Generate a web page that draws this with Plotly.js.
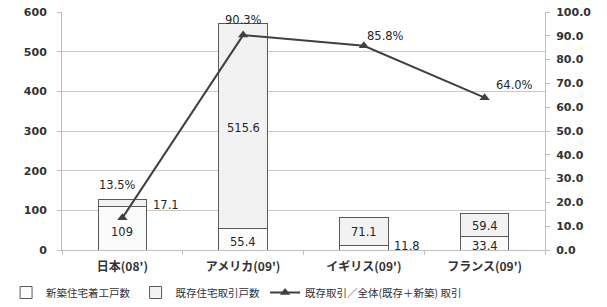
<!DOCTYPE html>
<html>
<head>
<meta charset="utf-8">
<script src="https://cdn.plot.ly/plotly-3.0.1.min.js"></script>
<style>html,body{margin:0;padding:0;background:#fff;}#chart{width:607px;height:307px;}</style>
</head>
<body>
<div id="chart"></div>
<script>
const categories = ["日本(08')", "アメリカ(09')", "イギリス(09')", "フランス(09')"];
const newStarts = [109, 55.4, 11.8, 33.4];
const existingTx = [17.1, 515.6, 71.1, 59.4];
const existingShare = [13.5, 90.3, 85.8, 64.0];
const seriesNames = ["新築住宅着工戸数", "既存住宅取引戸数", "既存取引／全体(既存＋新築) 取引"];

const lblFont = {family: "DejaVu Sans, Verdana, sans-serif", size: 11.5, color: "#262626"};
const tickFont = {family: "DejaVu Sans, Verdana, sans-serif", size: 11, color: "#333", weight: 700};

const traces = [
  {type: "bar", name: seriesNames[0], x: categories, y: newStarts,
   marker: {color: "#fbfbfb", line: {color: "#5a5a5a", width: 1}}, width: 0.4},
  {type: "bar", name: seriesNames[1], x: categories, y: existingTx,
   marker: {color: "#f2f2f2", line: {color: "#5a5a5a", width: 1}}, width: 0.4},
  {type: "scatter", mode: "lines+markers", name: seriesNames[2], x: categories, y: existingShare,
   yaxis: "y2", line: {color: "#404040", width: 2},
   marker: {symbol: "triangle-up", size: 9, color: "#404040"}}
];

const annotations = [];
const newShift = [[0, -4], [0, -3], [43, 2], [0, -3]];
categories.forEach((c, i) => {
  annotations.push({x: c, y: newStarts[i] / 2, xref: "x", yref: "y", text: String(newStarts[i]),
    showarrow: false, font: lblFont, xshift: newShift[i][0], yshift: newShift[i][1]});
});
const exShift = [[44, -2], [0, -2], [0, -1], [0, -1]];
categories.forEach((c, i) => {
  annotations.push({x: c, y: newStarts[i] + existingTx[i] / 2, xref: "x", yref: "y",
    text: existingTx[i].toFixed(1), showarrow: false, font: lblFont,
    xshift: exShift[i][0], yshift: exShift[i][1]});
});
const pShift = [[-5, 33], [0, 15], [22, 10], [30, 13]];
categories.forEach((c, i) => {
  annotations.push({x: c, y: existingShare[i], xref: "x", yref: "y2",
    text: existingShare[i].toFixed(1) + "%", showarrow: false, font: lblFont,
    xshift: pShift[i][0], yshift: pShift[i][1]});
});

const layout = {
  width: 607, height: 307,
  margin: {l: 62, r: 62, t: 12, b: 57, autoexpand: false},
  paper_bgcolor: "#fff", plot_bgcolor: "#fff",
  barmode: "stack",
  showlegend: true,
  legend: {orientation: "h", x: 0.01, xref: "container", y: -0.01, yref: "container",
    xanchor: "left", yanchor: "bottom",
    font: {family: "Noto Sans CJK JP, sans-serif", size: 10.5, color: "#333"},
    traceorder: "normal", tracegroupgap: 0},
  xaxis: {tickfont: {family: "Noto Sans CJK JP, sans-serif", size: 12, color: "#333", weight: 700},
    showline: true, linecolor: "#bfbfbf", ticks: "outside", ticklen: 4, tickcolor: "#bfbfbf",
    tickson: "boundaries", showgrid: false, automargin: false, ticklabelstandoff: 6},
  yaxis: {range: [0, 600], dtick: 100, tickfont: tickFont, showgrid: true, gridcolor: "#c8c8c8",
    showline: true, linecolor: "#bfbfbf", ticks: "outside", ticklen: 4, tickcolor: "#bfbfbf",
    zeroline: false, ticklabelstandoff: 8, automargin: false},
  yaxis2: {range: [0, 100], dtick: 10, tickformat: ".1f", overlaying: "y", side: "right",
    tickfont: tickFont, showgrid: false, showline: true, linecolor: "#bfbfbf",
    ticks: "outside", ticklen: 4, tickcolor: "#bfbfbf", zeroline: false, ticklabelstandoff: 4,
    automargin: false},
  annotations: annotations
};

Plotly.newPlot("chart", traces, layout, {displayModeBar: false, staticPlot: true});
</script>
</body>
</html>
